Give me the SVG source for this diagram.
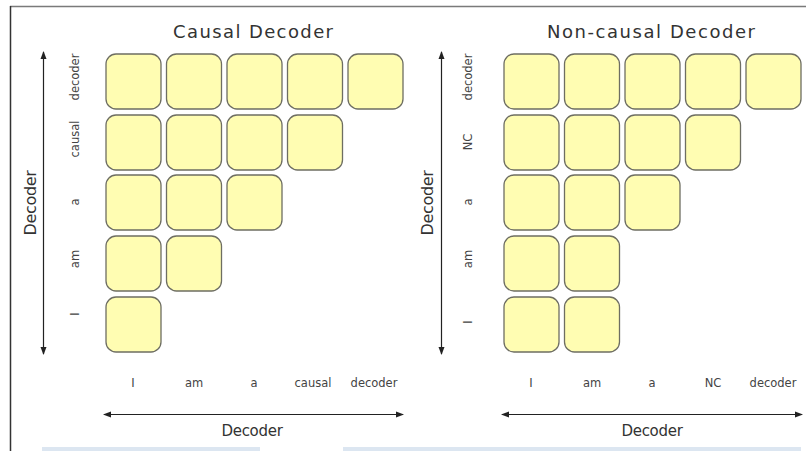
<svg xmlns="http://www.w3.org/2000/svg" width="806" height="451" viewBox="0 0 806 451">
  <style>
    .cell { fill: #FFFDB2; stroke: #6E6E62; stroke-width: 1.3; }
    .axis { stroke: #222; stroke-width: 1.2; fill: none; }
    .title { font-family: "DejaVu Sans", Verdana, sans-serif; font-size: 18px; fill: #333; text-anchor: middle; }
    .lbl { font-family: "DejaVu Sans", Verdana, sans-serif; font-size: 11.5px; fill: #444; text-anchor: middle; }
    .ax { font-family: "DejaVu Sans", Verdana, sans-serif; font-size: 15px; fill: #333; text-anchor: middle; letter-spacing: -0.3px; }
    .axv { font-size: 16px; }
  </style>
  <defs>
    <marker id="arr" viewBox="0 0 8 8" refX="7" refY="4" markerWidth="8" markerHeight="8" orient="auto-start-reverse" markerUnits="userSpaceOnUse">
      <path d="M0,1 L8,4 L0,7 Z" fill="#222"/>
    </marker>
  </defs>

  <rect x="0" y="0" width="806" height="451" fill="#fff"/>

  <!-- frame -->
  <line x1="10" y1="6.5" x2="806" y2="6.5" stroke="#7a7a7a" stroke-width="1.5"/>
  <line x1="10.5" y1="6" x2="10.5" y2="451" stroke="#333" stroke-width="1.5"/>
  <rect x="42" y="447" width="218" height="4" fill="#DCE6F1"/>
  <rect x="343" y="447" width="458" height="4" fill="#DCE6F1"/>

  <!-- causal decoder panel -->
  <g id="causal">
    <text class="title" x="253" y="38" textLength="160" lengthAdjust="spacing">Causal Decoder</text>
    <g id="causal-row1">
      <rect class="cell" x="106" y="54" width="55" height="55" rx="10"/>
      <rect class="cell" x="166.5" y="54" width="55" height="55" rx="10"/>
      <rect class="cell" x="227" y="54" width="55" height="55" rx="10"/>
      <rect class="cell" x="287.5" y="54" width="55" height="55" rx="10"/>
      <rect class="cell" x="348" y="54" width="55" height="55" rx="10"/>
    </g>
    <g id="causal-row2">
      <rect class="cell" x="106" y="115" width="55" height="55" rx="10"/>
      <rect class="cell" x="166.5" y="115" width="55" height="55" rx="10"/>
      <rect class="cell" x="227" y="115" width="55" height="55" rx="10"/>
      <rect class="cell" x="287.5" y="115" width="55" height="55" rx="10"/>
    </g>
    <g id="causal-row3">
      <rect class="cell" x="106" y="175" width="55" height="55" rx="10"/>
      <rect class="cell" x="166.5" y="175" width="55" height="55" rx="10"/>
      <rect class="cell" x="227" y="175" width="55" height="55" rx="10"/>
    </g>
    <g id="causal-row4">
      <rect class="cell" x="106" y="236" width="55" height="55" rx="10"/>
      <rect class="cell" x="166.5" y="236" width="55" height="55" rx="10"/>
    </g>
    <g id="causal-row5">
      <rect class="cell" x="106" y="297" width="55" height="55" rx="10"/>
    </g>
    <!-- row labels -->
    <text class="lbl" transform="translate(79,77) rotate(-90)">decoder</text>
    <text class="lbl" transform="translate(79,139) rotate(-90)">causal</text>
    <text class="lbl" transform="translate(79,202) rotate(-90)">a</text>
    <text class="lbl" transform="translate(79,259) rotate(-90)">am</text>
    <text class="lbl" transform="translate(79,314) rotate(-90)">I</text>
    <!-- column labels -->
    <text class="lbl" x="133" y="387">I</text>
    <text class="lbl" x="194" y="387">am</text>
    <text class="lbl" x="254" y="387">a</text>
    <text class="lbl" x="313" y="387">causal</text>
    <text class="lbl" x="374" y="387">decoder</text>
    <!-- axis titles -->
    <text class="ax axv" transform="translate(36,203) rotate(-90)">Decoder</text>
    <text class="ax" x="252" y="436">Decoder</text>
  </g>

  <!-- non-causal decoder panel -->
  <g id="noncausal">
    <text class="title" x="651" y="38" textLength="208" lengthAdjust="spacing">Non-causal Decoder</text>
    <g id="noncausal-row1">
      <rect class="cell" x="504" y="54" width="55" height="55" rx="10"/>
      <rect class="cell" x="564.5" y="54" width="55" height="55" rx="10"/>
      <rect class="cell" x="625" y="54" width="55" height="55" rx="10"/>
      <rect class="cell" x="685.5" y="54" width="55" height="55" rx="10"/>
      <rect class="cell" x="746" y="54" width="55" height="55" rx="10"/>
    </g>
    <g id="noncausal-row2">
      <rect class="cell" x="504" y="115" width="55" height="55" rx="10"/>
      <rect class="cell" x="564.5" y="115" width="55" height="55" rx="10"/>
      <rect class="cell" x="625" y="115" width="55" height="55" rx="10"/>
      <rect class="cell" x="685.5" y="115" width="55" height="55" rx="10"/>
    </g>
    <g id="noncausal-row3">
      <rect class="cell" x="504" y="175" width="55" height="55" rx="10"/>
      <rect class="cell" x="564.5" y="175" width="55" height="55" rx="10"/>
      <rect class="cell" x="625" y="175" width="55" height="55" rx="10"/>
    </g>
    <g id="noncausal-row4">
      <rect class="cell" x="504" y="236" width="55" height="55" rx="10"/>
      <rect class="cell" x="564.5" y="236" width="55" height="55" rx="10"/>
    </g>
    <g id="noncausal-row5">
      <rect class="cell" x="504" y="297" width="55" height="55" rx="10"/>
      <rect class="cell" x="564.5" y="297" width="55" height="55" rx="10"/>
    </g>
    <!-- row labels -->
    <text class="lbl" transform="translate(472,77) rotate(-90)">decoder</text>
    <text class="lbl" transform="translate(472,142) rotate(-90)">NC</text>
    <text class="lbl" transform="translate(472,202) rotate(-90)">a</text>
    <text class="lbl" transform="translate(472,259) rotate(-90)">am</text>
    <text class="lbl" transform="translate(472,322) rotate(-90)">I</text>
    <!-- column labels -->
    <text class="lbl" x="531" y="387">I</text>
    <text class="lbl" x="592" y="387">am</text>
    <text class="lbl" x="652" y="387">a</text>
    <text class="lbl" x="713" y="387">NC</text>
    <text class="lbl" x="773" y="387">decoder</text>
    <!-- axis titles -->
    <text class="ax axv" transform="translate(433,203) rotate(-90)">Decoder</text>
    <text class="ax" x="652" y="436">Decoder</text>
  </g>

  <!-- axis arrows -->
  <g id="connectors">
    <line class="axis" x1="43.5" y1="52" x2="43.5" y2="354" marker-start="url(#arr)" marker-end="url(#arr)"/>
    <line class="axis" x1="104" y1="414.5" x2="403" y2="414.5" marker-start="url(#arr)" marker-end="url(#arr)"/>
    <line class="axis" x1="441.5" y1="52" x2="441.5" y2="354" marker-start="url(#arr)" marker-end="url(#arr)"/>
    <line class="axis" x1="502" y1="414.5" x2="802" y2="414.5" marker-start="url(#arr)" marker-end="url(#arr)"/>
  </g>
</svg>
